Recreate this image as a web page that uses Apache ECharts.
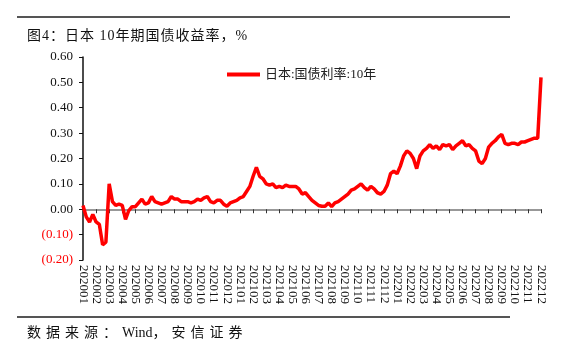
<!DOCTYPE html>
<html><head><meta charset="utf-8">
<script src="https://cdn.jsdelivr.net/npm/echarts@6/dist/echarts.min.js"></script>
<style>
html,body{margin:0;padding:0;background:#fff;}
#wrap{position:relative;width:582px;height:341px;overflow:hidden;}
#chart{position:absolute;left:0;top:0;width:582px;height:341px;}
.rule{position:absolute;left:17px;width:493px;height:2px;background:#555;}
.txt{position:absolute;left:27px;font-family:"Liberation Serif","Noto Sans CJK SC",serif;color:#111;white-space:nowrap;}
.latin{letter-spacing:0;}
</style></head>
<body><div id="wrap">
<div id="chart"></div>
<div class="rule" style="top:16px"></div>
<div class="txt" id="title" style="top:24px;font-size:14px;letter-spacing:1px;"></div>
<div class="rule" style="top:316px;height:1.5px"></div>
<div class="txt" id="source" style="top:321px;font-size:14px;letter-spacing:5px;"></div>
</div>
<script>
const titleText = "图4：日本 10年期国债收益率，%";
const sourcePre = "数据来源：";
const sourceLatin = "Wind";
const sourcePost = "，安信证券";
const seriesName = "日本:国债利率:10年";
const monthLabels = ["202001","202002","202003","202004","202005","202006","202007","202008","202009","202010","202011","202012",
"202101","202102","202103","202104","202105","202106","202107","202108","202109","202110","202111","202112",
"202201","202202","202203","202204","202205","202206","202207","202208","202209","202210","202211","202212"];
const yTicks = [-0.2,-0.1,0,0.1,0.2,0.3,0.4,0.5,0.6];
// yield samples, evenly spaced across the whole period (about 4 per label step)
const yieldValues = [
0.015,-0.03,-0.05,-0.02,-0.05,-0.06,-0.14,-0.13,0.10,0.03,
0.015,0.02,0.015,-0.04,-0.005,0.01,0.01,0.025,0.04,0.02,
0.025,0.05,0.03,0.025,0.02,0.025,0.03,0.05,0.04,0.04,
0.03,0.03,0.03,0.025,0.03,0.04,0.035,0.045,0.05,0.03,
0.025,0.035,0.035,0.02,0.012,0.025,0.03,0.035,0.045,0.05,
0.07,0.09,0.13,0.165,0.13,0.12,0.10,0.095,0.10,0.085,
0.09,0.085,0.095,0.09,0.09,0.09,0.08,0.06,0.065,0.05,
0.035,0.025,0.015,0.012,0.012,0.025,0.01,0.025,0.03,0.04,
0.05,0.06,0.075,0.08,0.09,0.10,0.085,0.075,0.09,0.08,
0.065,0.06,0.07,0.095,0.14,0.15,0.14,0.17,0.21,0.23,
0.22,0.20,0.16,0.21,0.23,0.24,0.255,0.24,0.25,0.235,
0.255,0.25,0.255,0.235,0.25,0.26,0.27,0.25,0.255,0.24,
0.23,0.19,0.18,0.20,0.245,0.26,0.27,0.285,0.295,0.26,
0.255,0.26,0.26,0.255,0.265,0.265,0.27,0.275,0.28,0.28,
0.52];

document.getElementById('title').textContent = titleText;
const src = document.getElementById('source');
src.appendChild(document.createTextNode(sourcePre));
const sp = document.createElement('span'); sp.className='latin'; sp.textContent = sourceLatin;
src.appendChild(sp);
src.appendChild(document.createTextNode(sourcePost));

const serif = '"Liberation Serif","Noto Sans CJK SC",serif';
const chart = echarts.init(document.getElementById('chart'), null, {renderer:'canvas'});
const pts = yieldValues.map((v,i)=>[i,v]);
chart.setOption({
  animation:false,
  backgroundColor:'#fff',
  grid:{left:83,right:41,top:57,bottom:81,containLabel:false},
  legend:{
    left:222, top:63, icon:'rect', itemWidth:33, itemHeight:4, itemGap:6,
    textStyle:{fontFamily:serif,fontSize:13,color:'#222'},
    data:[{name:seriesName,itemStyle:{color:'#ff0000'}}]
  },
  xAxis:[
    {type:'category',data:monthLabels,boundaryGap:false,
     axisLine:{onZero:true,lineStyle:{color:'#777',width:1.5}},
     axisTick:{show:true,interval:0,length:4,lineStyle:{color:'#333'}},
     axisLabel:{show:false},splitLine:{show:false}},
    {type:'category',data:monthLabels,boundaryGap:false,position:'bottom',
     axisLine:{show:false,onZero:false},axisTick:{show:false},
     axisLabel:{show:true,interval:0,rotate:-90,margin:5,fontFamily:serif,fontSize:13,color:'#111'},
     splitLine:{show:false}},
    {type:'value',min:0,max:yieldValues.length-1,show:false}
  ],
  yAxis:{type:'value',min:-0.2,max:0.6,interval:0.1,
    axisLine:{show:true,onZero:false,lineStyle:{color:'#111',width:1.5}},
    axisTick:{show:true,length:4,lineStyle:{color:'#111'}},
    splitLine:{show:false},
    axisLabel:{margin:10,fontFamily:serif,fontSize:13,
      color:(v)=> (Number(v) < -1e-9 ? '#ff0000' : '#111'),
      formatter:(v)=> v < -1e-9 ? '(' + Math.abs(v).toFixed(2) + ')' : v.toFixed(2)}
  },
  series:[{name:seriesName,type:'line',xAxisIndex:2,data:pts,symbol:'none',
    lineStyle:{color:'#ff0000',width:3.5},itemStyle:{color:'#ff0000'}}]
});
</script></body></html>
